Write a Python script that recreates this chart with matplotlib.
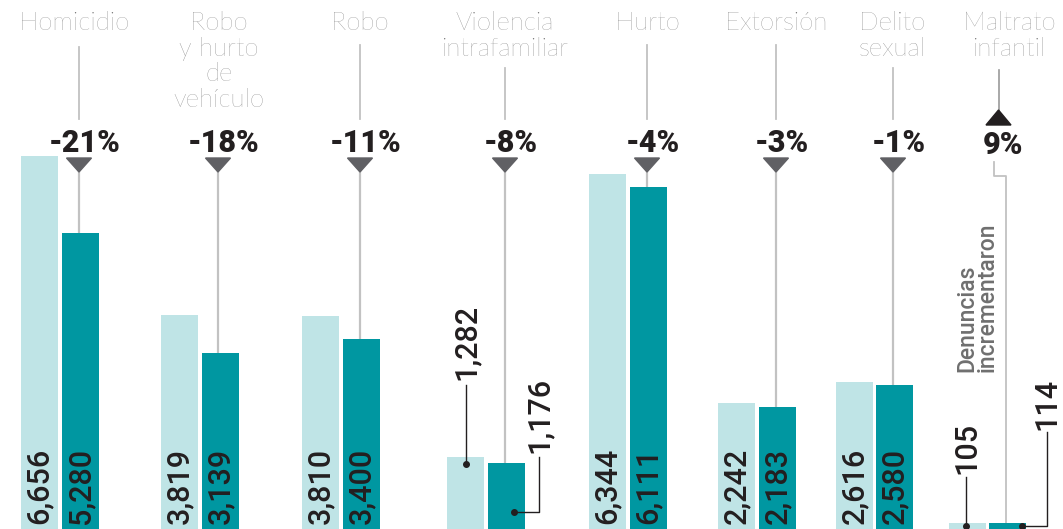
import numpy as np
import matplotlib.pyplot as plt
from matplotlib.patches import Polygon

# datos
categorias = ['Homicidio', 'Robo\ny hurto\nde\nvehículo', 'Robo', 'Violencia\nintrafamiliar',
              'Hurto', 'Extorsión', 'Delito\nsexual', 'Maltrato\ninfantil']
antes = [6656, 3819, 3810, 1282, 6344, 2242, 2616, 105]
despues = [5280, 3139, 3400, 1176, 6111, 2183, 2580, 114]
cambio = ['-21%', '-18%', '-11%', '-8%', '-4%', '-3%', '-1%', '9%']

# posiciones (pixeles de la figura)
x_claro = [21, 161, 302, 447, 589, 718, 836, 949]
x_oscuro = [62, 202, 343, 488, 630, 759, 876, 989]
x_linea = [79, 218, 360, 505, 647, 776, 893, 1006]
x_etiqueta = [74, 219, 360, 505, 647, 776, 892, 1009]
linea_arriba = [47, None, 45, 68, 45, 45, 68, None]
ancho = 37

W, H = 1063, 529
ymax = 9446

def py(y):
    # pixel vertical -> unidades de datos
    return (H - y) * ymax / H

CLARO = '#bfe4e6'
OSCURO = '#0097a1'
NEGRO = '#231f20'
GRIS = '#c2c2c2'
GRIS_TXT = '#6f6f6f'

fig = plt.figure(figsize=(W / 100, H / 100), dpi=100)
ax = fig.add_axes([0, 0, 1, 1])
ax.set_xlim(0, W)
ax.set_ylim(0, ymax)
ax.axis('off')

ax.bar(x_claro, antes, width=ancho, align='edge', color=CLARO, zorder=2)
ax.bar(x_oscuro, despues, width=ancho, align='edge', color=OSCURO, zorder=2)

fuente_cat = dict(family=['Lato', 'DejaVu Sans'], weight='light', fontsize=18.5, color=GRIS_TXT)
fuente_val = dict(family=['Roboto', 'DejaVu Sans'], weight='medium', fontsize=22, color=NEGRO)
fuente_pct = dict(family=['Roboto', 'DejaVu Sans'], weight='black', fontsize=22, color=NEGRO)

for i in range(len(categorias)):
    ax.text(x_etiqueta[i], py(11), categorias[i], ha='center', va='top',
            linespacing=1.08, **fuente_cat)

    # linea gris y triangulo
    if i < 7:
        if linea_arriba[i] is not None:
            ax.plot([x_linea[i]] * 2, [py(linea_arriba[i]), py(119)], color=GRIS, lw=1.3, zorder=1)
        ax.plot([x_linea[i]] * 2, [py(170), despues[i]], color=GRIS, lw=1.6, zorder=1)
        tri = Polygon([[x_linea[i] - 12.5, py(158)], [x_linea[i] + 12.5, py(158)],
                       [x_linea[i], py(172)]], closed=True, color='#606064', zorder=3)
        ax.add_patch(tri)
        ax.text(x_linea[i] + 6, py(143), cambio[i], ha='center', va='center', **fuente_pct)
    else:
        ax.plot([999, 999], [py(70), py(111)], color='#9a9a9a', lw=1.2, zorder=1)
        tri = Polygon([[986, py(125)], [1011, py(125)], [998.5, py(110)]],
                      closed=True, color=NEGRO, zorder=3)
        ax.add_patch(tri)
        ax.text(1003, py(145), cambio[i], ha='center', va='center', **fuente_pct)
        ax.plot([994, 994, 1006, 1006], [py(162), py(176), py(176), despues[i]],
                color=GRIS, lw=1.3, zorder=1)
        ax.text(977, py(372), 'Denuncias\nincrementaron', rotation=90, ha='center', va='bottom',
                multialignment='left', linespacing=0.88, family=['Roboto', 'DejaVu Sans'],
                weight='medium', fontsize=16.5, color=GRIS_TXT)

    # valores dentro de las barras
    if i not in (3, 7):
        ax.text(x_claro[i] + ancho / 2, py(524), f'{antes[i]:,}', rotation=90,
                ha='center', va='bottom', zorder=4, **fuente_val)
        ax.text(x_oscuro[i] + ancho / 2, py(524), f'{despues[i]:,}', rotation=90,
                ha='center', va='bottom', zorder=4, **fuente_val)

# valores pequenos con linea guia
def guia(xs, ys, xt, yt, txt):
    ax.plot(xs, ys, color=NEGRO, lw=1, zorder=5)
    ax.plot(xs[0], ys[0], 'o', color=NEGRO, ms=4, zorder=6)
    ax.text(xt, yt, txt, rotation=90, ha='center', va='bottom', zorder=6, **fuente_val)

guia([466, 466], [py(464), py(385)], 466, py(380), f'{antes[3]:,}')
guia([514, 539, 539], [py(512), py(512), py(457)], 539, py(453), f'{despues[3]:,}')
guia([966, 966], [py(526), py(477)], 967, py(474), f'{antes[7]:,}')
guia([1022, 1047, 1047], [py(526), py(526), py(432)], 1047, py(430), f'{despues[7]:,}')

fig.savefig('out.png', dpi=100)
